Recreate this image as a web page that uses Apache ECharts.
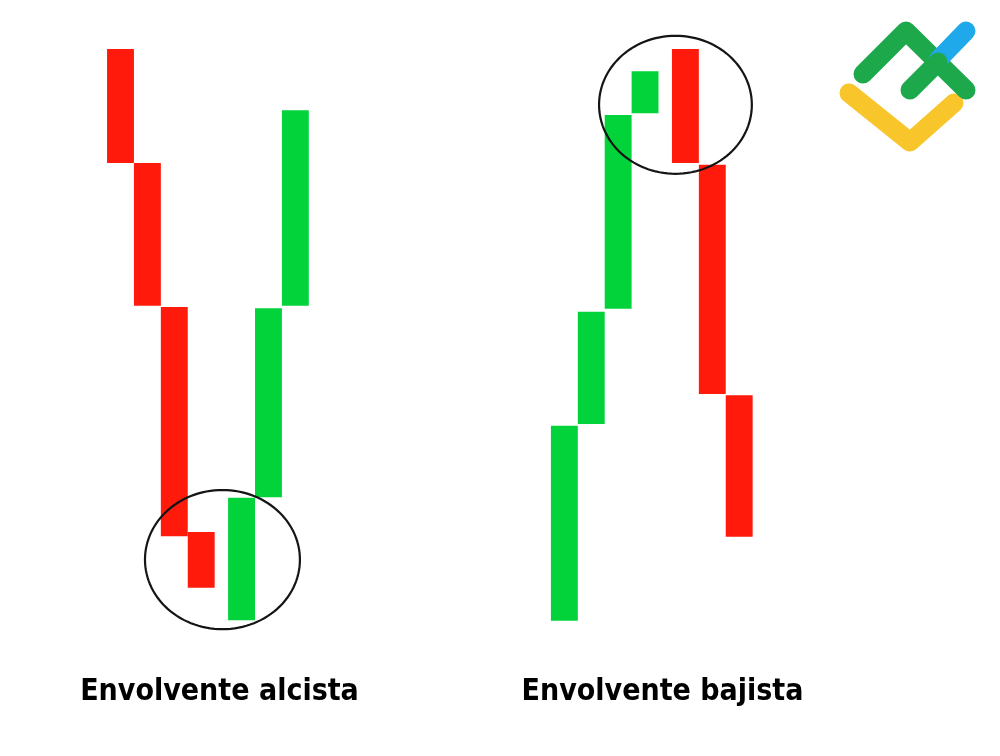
<!DOCTYPE html>
<html>
<head>
<meta charset="utf-8">
<script src="https://cdn.jsdelivr.net/npm/echarts@6/dist/echarts.min.js"></script>
<style>
html,body{margin:0;padding:0;background:#fff;}
#chart{width:1000px;height:756px;}
</style>
</head>
<body>
<div id="chart"></div>
<script>
// Bullish engulfing (left) : [position, open, close]
const bullishPositions = [0, 1, 2, 3, 4.5, 5.5, 6.5];
const bullishOpen  = [98.5, 79.5, 55.5, 18.0, 3.3, 23.8, 55.7];
const bullishClose = [79.5, 55.7, 17.3, 8.7, 23.7, 55.3, 88.3];

// Bearish engulfing (right)
const bearishPositions = [16.5, 17.5, 18.5, 19.5, 21, 22, 23];
const bearishOpen  = [3.2, 36.0, 55.2, 87.8, 98.5, 79.2, 40.8];
const bearishClose = [35.7, 54.7, 87.5, 94.8, 79.5, 41.0, 17.2];

// Highlight ellipses: [centerX, centerY, radiusX, radiusY]
const highlights = [[3.79, 13.4, 2.88, 11.6], [20.63, 89.2, 2.84, 11.5]];

const labels = ['Envolvente alcista', 'Envolvente bajista'];

const RED = '#FF1A0C';
const GREEN = '#02D33B';

const candleData = [];
bullishPositions.forEach((p, i) => candleData.push([p, bullishOpen[i], bullishClose[i]]));
bearishPositions.forEach((p, i) => candleData.push([p, bearishOpen[i], bearishClose[i]]));

const chart = echarts.init(document.getElementById('chart'), null, {renderer: 'canvas'});

function renderCandle(params, api) {
  const x = api.value(0), o = api.value(1), c = api.value(2);
  const p1 = api.coord([x - 0.5, Math.max(o, c)]);
  const p2 = api.coord([x + 0.5, Math.min(o, c)]);
  return {
    type: 'rect',
    shape: {x: p1[0], y: p1[1], width: p2[0] - p1[0], height: p2[1] - p1[1]},
    style: {fill: c >= o ? GREEN : RED}
  };
}

function renderEllipse(params, api) {
  const c = api.coord([api.value(0), api.value(1)]);
  const s = api.size([api.value(2), api.value(3)]);
  const pts = [];
  for (let k = 0; k < 120; k++) {
    const a = k / 120 * Math.PI * 2;
    pts.push([c[0] + s[0] * Math.cos(a), c[1] + s[1] * Math.sin(a)]);
  }
  return {
    type: 'polygon',
    shape: {points: pts},
    style: {fill: 'none', stroke: '#151515', lineWidth: 2.2}
  };
}

const logoStroke = (pts, color) => ({
  type: 'polyline',
  shape: {points: pts},
  style: {stroke: color, lineWidth: 19, lineCap: 'round', lineJoin: 'round', fill: 'none'}
});

const option = {
  backgroundColor: '#ffffff',
  animation: false,
  grid: {left: 93.6, top: 40, width: 699.4, height: 600},
  xAxis: {type: 'value', min: -1, max: 25, show: false},
  yAxis: {type: 'value', min: 0, max: 100, show: false},
  series: [
    {type: 'custom', renderItem: renderCandle, data: candleData, silent: true, z: 2},
    {type: 'custom', renderItem: renderEllipse, data: highlights, silent: true, z: 3}
  ],
  graphic: [
    logoStroke([[849, 93], [910, 142], [954, 103]], '#F8C52A'),
    logoStroke([[863, 74], [906, 31], [966, 90]], '#1DA84C'),
    logoStroke([[938, 60], [966, 31]], '#1FA9EA'),
    logoStroke([[910, 90], [938, 62]], '#1DA84C'),
    {
      type: 'text', x: 219.5, y: 692,
      style: {text: labels[0], fill: '#000', font: 'bold 30px "DejaVu Sans Condensed", "DejaVu Sans", sans-serif', align: 'center', verticalAlign: 'middle'}
    },
    {
      type: 'text', x: 662.5, y: 692,
      style: {text: labels[1], fill: '#000', font: 'bold 30px "DejaVu Sans Condensed", "DejaVu Sans", sans-serif', align: 'center', verticalAlign: 'middle'}
    }
  ]
};
chart.setOption(option);
</script>
</body>
</html>
